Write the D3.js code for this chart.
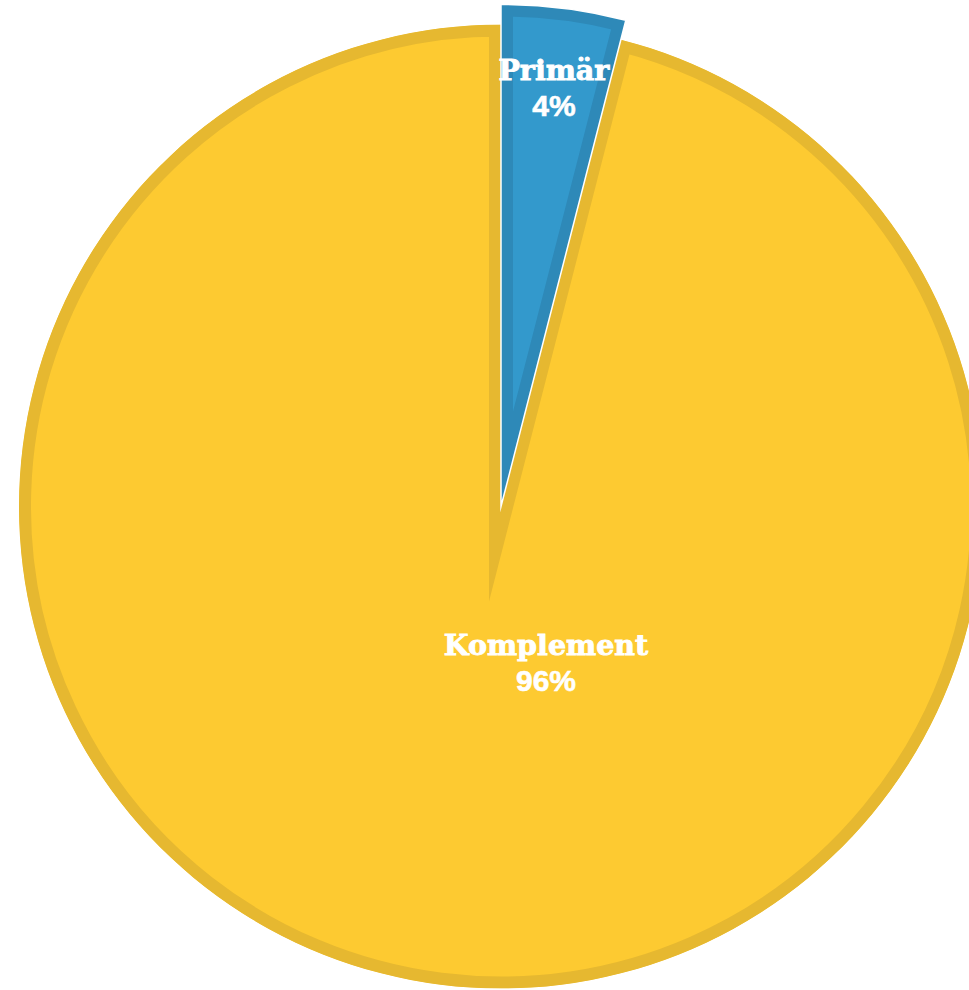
<!DOCTYPE html>
<html>
<head>
<meta charset="utf-8">
<script src="https://cdn.jsdelivr.net/npm/d3@7"></script>
<style>
  html, body { margin: 0; padding: 0; background: #fff; }
  svg { display: block; }
</style>
</head>
<body>
<svg id="chart"></svg>
<script>
// chart data
const categories = ['Primär', 'Komplement'];
const shares = [4, 96];
const percentLabels = ['4%', '96%'];

const width = 969;
const height = 990;
const cx = 501;
const cy = 506.5;
const radius = 482;

// fill / border colours per slice
const fills = ['#3399cc', '#fdca31'];
const borders = ['#2e89b8', '#e6b830'];
// the highlighted slice sticks out a bit further
const extra = [20, 0];

const svg = d3.select('#chart')
    .attr('width', width)
    .attr('height', height)
    .attr('viewBox', `0 0 ${width} ${height}`);

const pie = d3.pie().sort(null).value(d => d.value);
const data = categories.map((name, i) => ({ name, value: shares[i], pct: percentLabels[i], i }));
const arcs = pie(data);

const arcFor = d => d3.arc().innerRadius(0).outerRadius(radius + extra[d.data.i]);

const g = svg.append('g').attr('transform', `translate(${cx},${cy})`);

// draw the big slice first so the small one sits on top
const order = arcs.slice().sort((a, b) => b.value - a.value);

const slice = g.selectAll('g.slice')
    .data(order)
    .enter()
    .append('g')
    .attr('class', 'slice');

// clip path so the border stroke only shows on the inside
slice.append('clipPath')
    .attr('id', d => 'clip' + d.data.i)
    .append('path')
    .attr('d', d => arcFor(d)(d));

slice.append('path')
    .attr('d', d => arcFor(d)(d))
    .attr('fill', d => fills[d.data.i])
    .attr('stroke', d => borders[d.data.i])
    .attr('stroke-width', 24)
    .attr('stroke-linejoin', 'miter')
    .attr('stroke-miterlimit', 40)
    .attr('clip-path', d => `url(#clip${d.data.i})`);

// thin white outline round the highlighted slice
slice.filter(d => extra[d.data.i] > 0)
    .append('path')
    .attr('d', d => arcFor(d)(d))
    .attr('fill', 'none')
    .attr('stroke', '#ffffff')
    .attr('stroke-width', 1.5)
    .attr('stroke-miterlimit', 40);

// label positions: small slice near its rim, big slice below the centre
const labelArc = d3.arc().innerRadius(422).outerRadius(422);
const labelPos = d => d.data.i === 0 ? labelArc.centroid(d) : [45, 156];

const label = g.selectAll('g.label')
    .data(arcs)
    .enter()
    .append('g')
    .attr('class', 'label')
    .attr('transform', d => `translate(${labelPos(d)})`)
    .attr('fill', '#ffffff')
    .attr('stroke', '#ffffff')
    .attr('text-anchor', 'middle');

label.append('text')
    .attr('y', -8)
    .attr('font-family', '"DejaVu Serif", serif')
    .attr('font-weight', 'bold')
    .attr('font-size', 28.5)
    .attr('stroke-width', 0.9)
    .text(d => d.data.name);

label.append('text')
    .attr('y', 28)
    .attr('font-family', '"Liberation Sans", Arial, sans-serif')
    .attr('font-weight', 'bold')
    .attr('font-size', 30)
    .attr('stroke-width', 0.6)
    .text(d => d.data.pct);
</script>
</body>
</html>
